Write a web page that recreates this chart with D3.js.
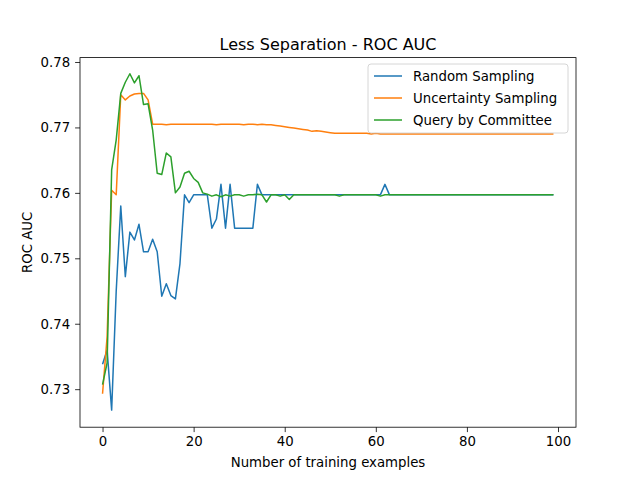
<!DOCTYPE html>
<html>
<head>
<script src="https://d3js.org/d3.v7.min.js"></script>
<style>
body { margin: 0; background: #fff; }
text { font-family: "DejaVu Sans", sans-serif; }
</style>
</head>
<body>
<script>
// series values, index = number of training examples
const randomSampling = [0.7338, 0.7360, 0.7268, 0.7450, 0.7580, 0.7472, 0.7540, 0.7528, 0.7552, 0.7510,
  0.7510, 0.7529, 0.7510, 0.7442, 0.7461, 0.7443, 0.7438, 0.7492, 0.7597, 0.7585,
  0.7597, 0.7597, 0.7597, 0.7597, 0.7546, 0.7560, 0.7613, 0.7546, 0.7613, 0.7546,
  0.7546, 0.7546, 0.7546, 0.7546, 0.7613, 0.7597, 0.7597, 0.7597, 0.7597, 0.7597,
  0.7597, 0.7597, 0.7597, 0.7597, 0.7597, 0.7597, 0.7597, 0.7597, 0.7597, 0.7597,
  0.7597, 0.7597, 0.7597, 0.7597, 0.7597, 0.7597, 0.7597, 0.7597, 0.7597, 0.7597,
  0.7597, 0.7597, 0.7613, 0.7597, 0.7597, 0.7597, 0.7597, 0.7597, 0.7597, 0.7597,
  0.7597, 0.7597, 0.7597, 0.7597, 0.7597, 0.7597, 0.7597, 0.7597, 0.7597, 0.7597,
  0.7597, 0.7597, 0.7597, 0.7597, 0.7597, 0.7597, 0.7597, 0.7597, 0.7597, 0.7597,
  0.7597, 0.7597, 0.7597, 0.7597, 0.7597, 0.7597, 0.7597, 0.7597, 0.7597, 0.7597];
const uncertaintySampling = [0.7293, 0.7380, 0.7604, 0.7597, 0.7750, 0.7742, 0.7748, 0.7751, 0.7752, 0.7752,
  0.7742, 0.7705, 0.7705, 0.7705, 0.7704, 0.7705, 0.7705, 0.7705, 0.7705, 0.7705,
  0.7705, 0.7705, 0.7705, 0.7705, 0.7705, 0.7704, 0.7705, 0.7705, 0.7705, 0.7705,
  0.7705, 0.7704, 0.7705, 0.7705, 0.7704, 0.7705, 0.7704, 0.7704, 0.7703, 0.7702,
  0.7701, 0.7700, 0.7699, 0.7698, 0.7697, 0.7696, 0.7694, 0.7695, 0.7694, 0.7693,
  0.7692, 0.7691, 0.7691, 0.7691, 0.7691, 0.7691, 0.7691, 0.7691, 0.7691, 0.7690,
  0.7691, 0.7690, 0.7690, 0.7690, 0.7690, 0.7690, 0.7690, 0.7690, 0.7690, 0.7690,
  0.7690, 0.7690, 0.7690, 0.7690, 0.7690, 0.7690, 0.7690, 0.7690, 0.7690, 0.7690,
  0.7690, 0.7690, 0.7690, 0.7690, 0.7690, 0.7690, 0.7690, 0.7690, 0.7690, 0.7690,
  0.7690, 0.7690, 0.7690, 0.7690, 0.7690, 0.7690, 0.7690, 0.7690, 0.7690, 0.7690];
const queryByCommittee = [0.7307, 0.7340, 0.7635, 0.7681, 0.7752, 0.7769, 0.7782, 0.7768, 0.7779, 0.7735,
  0.7736, 0.7696, 0.7630, 0.7628, 0.7661, 0.7655, 0.7600, 0.7609, 0.7630, 0.7633,
  0.7622, 0.7616, 0.7600, 0.7598, 0.7595, 0.7597, 0.7594, 0.7597, 0.7595, 0.7597,
  0.7597, 0.7595, 0.7597, 0.7597, 0.7598, 0.7597, 0.7586, 0.7597, 0.7597, 0.7595,
  0.7597, 0.7590, 0.7597, 0.7597, 0.7597, 0.7597, 0.7597, 0.7597, 0.7597, 0.7597,
  0.7597, 0.7597, 0.7595, 0.7597, 0.7597, 0.7597, 0.7597, 0.7597, 0.7597, 0.7597,
  0.7597, 0.7595, 0.7597, 0.7597, 0.7597, 0.7597, 0.7597, 0.7597, 0.7597, 0.7597,
  0.7597, 0.7597, 0.7597, 0.7597, 0.7597, 0.7597, 0.7597, 0.7597, 0.7597, 0.7597,
  0.7597, 0.7597, 0.7597, 0.7597, 0.7597, 0.7597, 0.7597, 0.7597, 0.7597, 0.7597,
  0.7597, 0.7597, 0.7597, 0.7597, 0.7597, 0.7597, 0.7597, 0.7597, 0.7597, 0.7597];
const seriesNames = ["Random Sampling", "Uncertainty Sampling", "Query by Committee"];
const colors = ["#1f77b4", "#ff7f0e", "#2ca02c"];
const xTicks = [0, 20, 40, 60, 80, 100];
const yTicks = [0.73, 0.74, 0.75, 0.76, 0.77, 0.78];

const w = 640, h = 480;
const margin = {top: 57.6, right: 64, bottom: 52.8, left: 80};
const iw = w - margin.left - margin.right, ih = h - margin.top - margin.bottom;

const svg = d3.select('body').append('svg').attr('width', w).attr('height', h);
const g = svg.append('g').attr('transform', `translate(${margin.left},${margin.top})`);

const x = d3.scaleLinear().domain([-4.95, 103.95]).range([0, iw]);
const y = d3.scaleLinear().domain([0.72419, 0.78067]).range([ih, 0]);

const allSeries = [randomSampling, uncertaintySampling, queryByCommittee];
const line = d3.line().x((d, i) => x(i)).y(d => y(d));
allSeries.forEach((s, k) => {
  g.append('path').datum(s).attr('d', line)
    .attr('fill', 'none').attr('stroke', colors[k]).attr('stroke-width', 1.5)
    .attr('stroke-linejoin', 'round');
});

const xa = g.append('g').attr('transform', `translate(0,${ih})`)
  .call(d3.axisBottom(x).tickValues(xTicks).tickSize(4.9).tickPadding(4.9).tickFormat(d3.format('d')));
const ya = g.append('g')
  .call(d3.axisLeft(y).tickValues(yTicks).tickSize(4.9).tickPadding(4.9).tickFormat(d3.format('.2f')));
[xa, ya].forEach(a => {
  a.selectAll('text').attr('font-size', 13.3).attr('fill', '#000').attr('font-family', 'DejaVu Sans');
  a.select('.domain').remove();
  a.selectAll('line').attr('stroke', '#000').attr('stroke-width', 0.8);
});
g.append('rect').attr('width', iw).attr('height', ih).attr('fill', 'none')
  .attr('stroke', '#000').attr('stroke-width', 0.8);

svg.append('text').attr('x', margin.left + iw / 2).attr('y', 50).attr('text-anchor', 'middle')
  .attr('font-size', 16).text('Less Separation - ROC AUC');
svg.append('text').attr('x', margin.left + iw / 2).attr('y', 467).attr('text-anchor', 'middle')
  .attr('font-size', 13.3).text('Number of training examples');
svg.append('text').attr('transform', `translate(32,${margin.top + ih / 2}) rotate(-90)`)
  .attr('text-anchor', 'middle').attr('font-size', 13.3).text('ROC AUC');

// legend
const lg = svg.append('g').attr('transform', 'translate(368,64)');
lg.append('rect').attr('width', 200).attr('height', 69).attr('rx', 3)
  .attr('fill', '#fff').attr('fill-opacity', 0.8).attr('stroke', '#ccc').attr('stroke-width', 0.8);
seriesNames.forEach((n, k) => {
  const yy = 12 + k * 22;
  lg.append('line').attr('x1', 6).attr('x2', 34).attr('y1', yy).attr('y2', yy)
    .attr('stroke', colors[k]).attr('stroke-width', 1.5);
  lg.append('text').attr('x', 45).attr('y', yy + 5).attr('font-size', 13.3).text(n);
});
</script>
</body>
</html>
